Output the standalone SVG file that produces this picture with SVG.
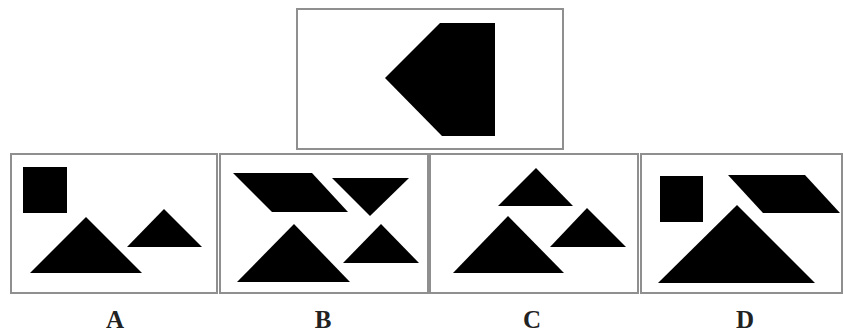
<svg xmlns="http://www.w3.org/2000/svg" width="844" height="332" viewBox="0 0 844 332">
<style>
.frame{fill:#fff;stroke:#8f8f8f;stroke-width:2}
.shape{fill:#000}
.lbl{font-family:"Liberation Serif","Times New Roman",serif;font-weight:bold;font-size:25px;fill:#222;text-anchor:middle}
</style>
<rect width="844" height="332" fill="#fff"/>
<g id="question">
<rect class="frame" x="297" y="9" width="266" height="140"/>
<polygon class="shape" points="385,78 440,23 495,23 495,136 442,136"/>
</g>
<g id="optionA">
<rect class="frame" x="11" y="154" width="206" height="139"/>
<rect class="shape" x="23" y="167" width="44" height="46"/>
<polygon class="shape" points="30,273 86,217 142,273"/>
<polygon class="shape" points="127,247 164,209 202,247"/>
</g>
<g id="optionB">
<rect class="frame" x="220" y="154" width="208" height="139"/>
<polygon class="shape" points="233,173 312,173 348,212 272,212"/>
<polygon class="shape" points="332,178 409,178 370,216"/>
<polygon class="shape" points="237,282 294,224 350,282"/>
<polygon class="shape" points="343,263 381,224 419,263"/>
</g>
<g id="optionC">
<rect class="frame" x="430" y="154" width="208" height="139"/>
<polygon class="shape" points="498,206 536,168 573,206"/>
<polygon class="shape" points="453,273 508,216 564,273"/>
<polygon class="shape" points="550,247 587,208 626,247"/>
</g>
<g id="optionD">
<rect class="frame" x="641" y="154" width="201" height="139"/>
<rect class="shape" x="660" y="176" width="43" height="46"/>
<polygon class="shape" points="728,175 805,175 840,213 763,213"/>
<polygon class="shape" points="658,283 737,205 815,283"/>
</g>
<g id="labels">
<text class="lbl" x="115" y="328">A</text>
<text class="lbl" x="323" y="328">B</text>
<text class="lbl" x="532" y="328">C</text>
<text class="lbl" x="745" y="328">D</text>
</g>
<g id="connectors"></g>
</svg>
